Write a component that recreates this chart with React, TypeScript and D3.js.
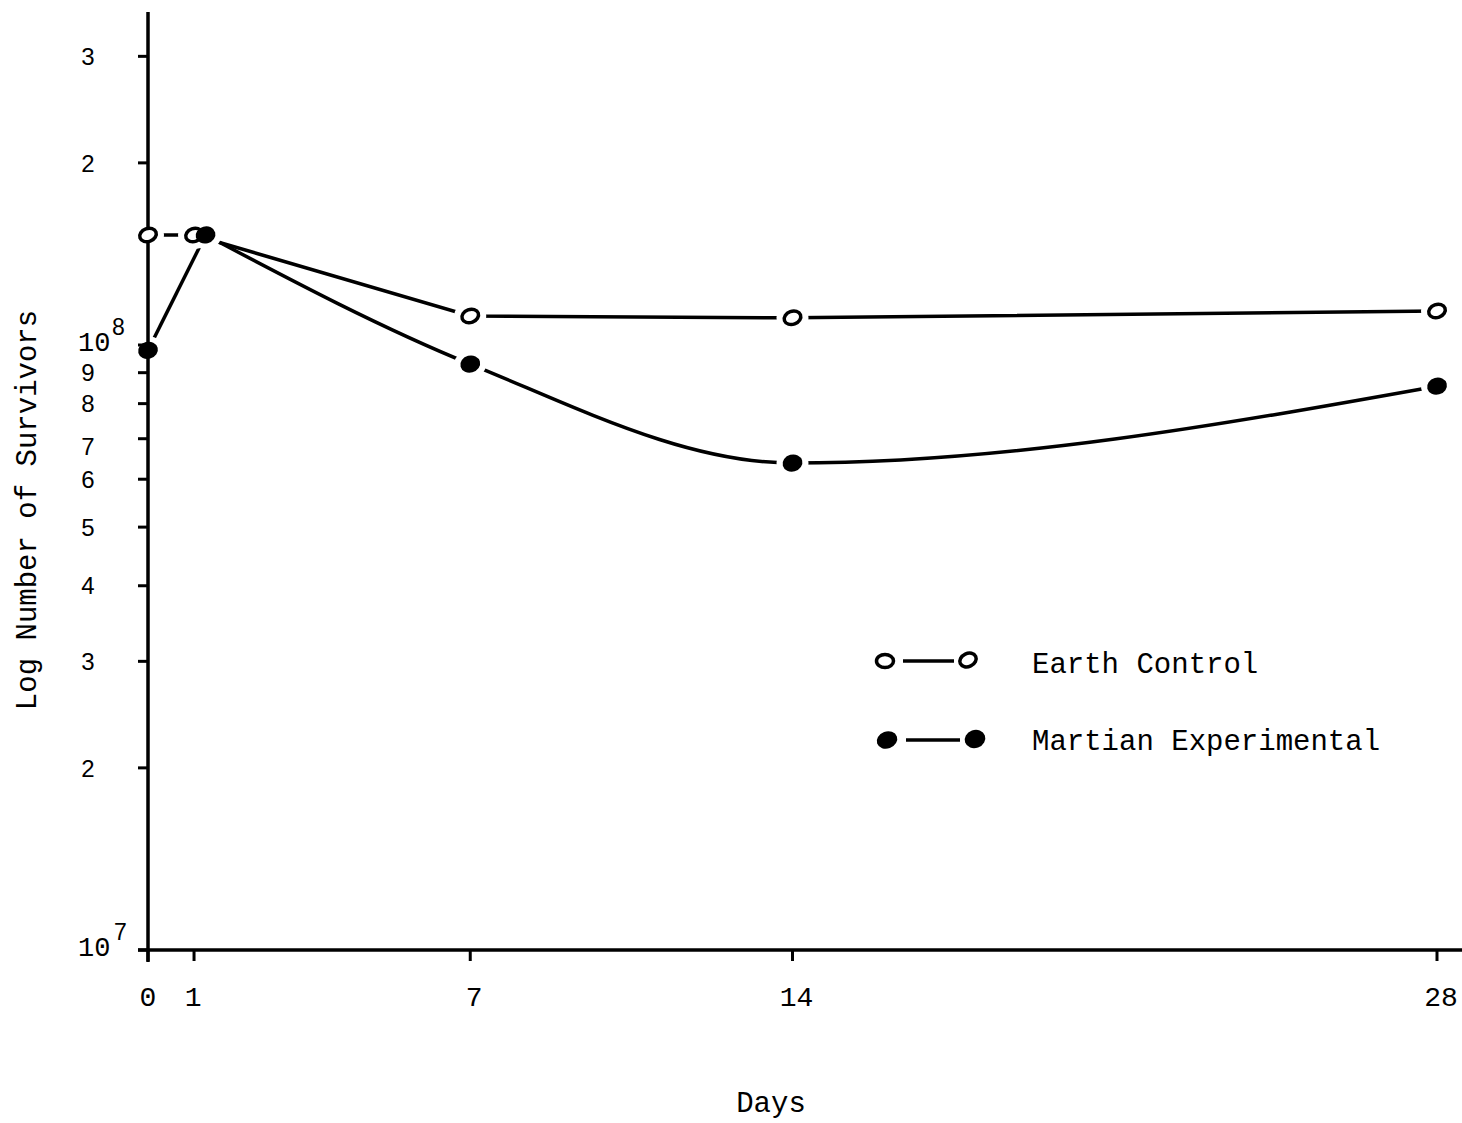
import * as d3 from "d3";

const days = [0, 1, 7, 14, 28];
const earthDays = [0, 1, 7, 14, 28];
const earthValues = [1.52e8, 1.52e8, 1.117e8, 1.109e8, 1.138e8];
const marsDays = [0, 1.25, 7, 14, 28];
const marsValues = [0.98e8, 1.52e8, 0.93e8, 0.638e8, 0.855e8];
const yTickValues = [2e7, 3e7, 4e7, 5e7, 6e7, 7e7, 8e7, 9e7, 2e8, 3e8];
const yTickLabels = ["2", "3", "4", "5", "6", "7", "8", "9", "2", "3"];
const decades = [1e7, 1e8];
const decadeExp = ["7", "8"];

const W = 1462;
const H = 1123;
const mono = "'Liberation Mono', 'DejaVu Sans Mono', monospace";
const sans = "'Liberation Sans', Arial, sans-serif";

export default function App() {
  const x = d3.scaleLinear().domain([0, 28]).range([148, 1437]);
  const y = d3.scaleLog().domain([1e7, 1e8]).range([950, 345]);

  const earth = earthDays.map((d, i) => [d, earthValues[i]] as [number, number]);
  const mars = marsDays.map((d, i) => [d, marsValues[i]] as [number, number]);

  const straight = d3
    .line<[number, number]>()
    .x((d) => x(d[0]))
    .y((d) => y(d[1]));
  const smooth = d3
    .line<[number, number]>()
    .x((d) => x(d[0]))
    .y((d) => y(d[1]))
    .curve(d3.curveMonotoneX);

  const all = [...earth, ...mars];

  return (
    <svg
      width={W}
      height={H}
      style={{ position: "absolute", left: 0, top: 0, background: "#fff" }}
    >
      <defs>
        <mask id="gaps" maskUnits="userSpaceOnUse" x={0} y={0} width={W} height={H}>
          <rect x={0} y={0} width={W} height={H} fill="#fff" />
          {all.map((d, i) => (
            <ellipse key={i} cx={x(d[0])} cy={y(d[1])} rx={16} ry={14} fill="#000" />
          ))}
        </mask>
      </defs>

      {/* axes */}
      <line x1={148} x2={148} y1={12} y2={962} stroke="#000" strokeWidth={3.5} />
      <line x1={138} x2={1462} y1={y(1e7)} y2={y(1e7)} stroke="#000" strokeWidth={3.5} />

      {yTickValues.map((v, i) => (
        <g key={"yt" + i}>
          <line x1={138} x2={148} y1={y(v)} y2={y(v)} stroke="#000" strokeWidth={3} />
          <text
            x={88}
            y={y(v) + (v === 7e7 ? 8 : 0)}
            dy="0.36em"
            textAnchor="middle"
            fontFamily={sans}
            fontSize={24}
          >
            {yTickLabels[i]}
          </text>
        </g>
      ))}
      {decades.map((v, i) => (
        <g key={"dec" + i}>
          <line x1={138} x2={148} y1={y(v)} y2={y(v)} stroke="#000" strokeWidth={3} />
          <text x={78} y={y(v) + 6} fontFamily={mono} fontSize={27}>
            10
          </text>
          <text x={i === 0 ? 114 : 112} y={y(v) - 10} fontFamily={sans} fontSize={23}>
            {decadeExp[i]}
          </text>
        </g>
      ))}

      {days.map((d) => (
        <g key={"xt" + d}>
          <line x1={x(d)} x2={x(d)} y1={y(1e7)} y2={y(1e7) + 11} stroke="#000" strokeWidth={3} />
          <text
            x={x(d) + (d === 0 ? 0 : d === 1 ? -1 : 4)}
            y={1006}
            textAnchor="middle"
            fontFamily={mono}
            fontSize={28}
          >
            {d}
          </text>
        </g>
      ))}

      <text x={771} y={1112} textAnchor="middle" fontFamily={mono} fontSize={29}>
        Days
      </text>
      <text
        transform="translate(36,510) rotate(-90)"
        textAnchor="middle"
        fontFamily={mono}
        fontSize={29}
      >
        Log Number of Survivors
      </text>

      {/* series lines with gaps around markers */}
      <g mask="url(#gaps)" fill="none" stroke="#000" strokeWidth={3.5}>
        <path d={straight(earth) ?? ""} />
        <path d={straight(mars.slice(0, 2)) ?? ""} />
        <path d={smooth(mars.slice(1)) ?? ""} />
      </g>

      {earth.map((d, i) => (
        <ellipse
          key={"e" + i}
          cx={x(d[0])}
          cy={y(d[1])}
          rx={8.5}
          ry={6.5}
          fill="#fff"
          stroke="#000"
          strokeWidth={3.5}
          transform={`rotate(-20 ${x(d[0])} ${y(d[1])})`}
        />
      ))}
      {mars.map((d, i) => (
        <ellipse
          key={"m" + i}
          cx={x(d[0])}
          cy={y(d[1])}
          rx={10}
          ry={8.5}
          fill="#000"
          transform={`rotate(-15 ${x(d[0])} ${y(d[1])})`}
        />
      ))}

      {/* legend */}
      <g>
        <ellipse cx={885} cy={661} rx={8.5} ry={6.5} fill="#fff" stroke="#000" strokeWidth={3.5} />
        <line x1={903} x2={954} y1={661} y2={661} stroke="#000" strokeWidth={3.5} />
        <ellipse
          cx={968}
          cy={660}
          rx={8.5}
          ry={6.5}
          fill="#fff"
          stroke="#000"
          strokeWidth={3.5}
          transform="rotate(-25 968 660)"
        />
        <text x={1032} y={673} fontFamily={mono} fontSize={29}>
          Earth Control
        </text>

        <ellipse cx={887} cy={740} rx={10.5} ry={8.5} fill="#000" transform="rotate(-20 887 740)" />
        <line x1={906} x2={960} y1={740} y2={740} stroke="#000" strokeWidth={3.5} />
        <ellipse cx={975} cy={739} rx={10.5} ry={9} fill="#000" transform="rotate(-20 975 739)" />
        <text x={1032} y={750} fontFamily={mono} fontSize={29}>
          Martian Experimental
        </text>
      </g>
    </svg>
  );
}
